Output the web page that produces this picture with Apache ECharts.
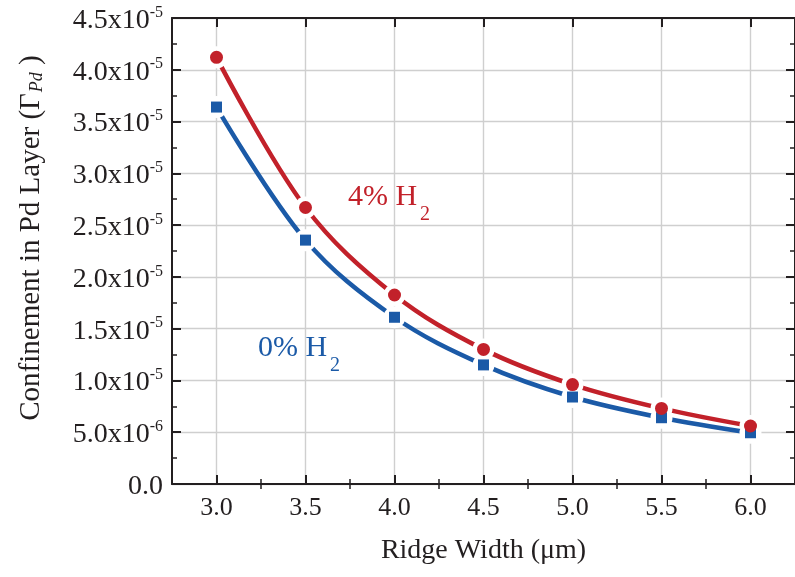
<!DOCTYPE html>
<html><head><meta charset="utf-8">
<script src="https://cdn.jsdelivr.net/npm/echarts@6/dist/echarts.min.js"></script>
<style>html,body{margin:0;padding:0;background:#fff}#c{width:795px;height:577px}</style>
</head><body><div id="c"></div>
<script>
const ridgeWidth = [3.0, 3.5, 4.0, 4.5, 5.0, 5.5, 6.0];
const conf4H2 = [4.12e-5, 2.67e-5, 1.825e-5, 1.30e-5, 9.6e-6, 7.3e-6, 5.6e-6];
const conf0H2 = [3.64e-5, 2.355e-5, 1.61e-5, 1.15e-5, 8.4e-6, 6.4e-6, 4.95e-6];
const xMajor = [3.0, 3.5, 4.0, 4.5, 5.0, 5.5, 6.0];
const xMinor = [3.25, 3.75, 4.25, 4.75, 5.25, 5.75];

const RED = '#C2212A', BLUE = '#1B5AA7', AX = '#231F20', GRID = '#CFCFCF';
const FONT = 'Liberation Serif';
const pairs = a => ridgeWidth.map((x, i) => [x, a[i]]);

function yFmt(v) {
  if (v === 0) return '{a|0.0}';
  if (v < 9.9e-6) return '{a|' + (v / 1e-6).toFixed(1) + 'x10}{s|-6}';
  return '{a|' + (v / 1e-5).toFixed(1) + 'x10}{s|-5}';
}

const chart = echarts.init(document.getElementById('c'), null, {renderer: 'canvas'});
const xBase = {
  type: 'value', min: 2.75, max: 6.25, gridIndex: 0,
  axisLine: {show: true, onZero: false, lineStyle: {color: AX, width: 2}},
  splitLine: {show: false}, minorTick: {show: false}
};
const option = {
  animation: false,
  backgroundColor: '#fff',
  grid: {left: 172, top: 18, width: 626, height: 466, containLabel: false},
  xAxis: [
    Object.assign({}, xBase, {
      position: 'bottom',
      axisTick: {show: true, inside: true, length: 9, customValues: xMajor, lineStyle: {color: AX, width: 2}},
      axisLabel: {show: true, customValues: xMajor, margin: 11, color: AX, fontFamily: FONT, fontSize: 26,
        formatter: v => v.toFixed(1)},
      splitLine: {show: true, lineStyle: {color: GRID, width: 1.4}},
      name: 'Ridge Width (\u03bcm)', nameLocation: 'middle', nameGap: 53,
      nameTextStyle: {color: AX, fontFamily: FONT, fontSize: 28}
    }),
    Object.assign({}, xBase, {
      position: 'bottom', axisLine: {show: false},
      axisTick: {show: true, inside: true, length: 5, customValues: xMinor, lineStyle: {color: AX, width: 1.5}},
      axisLabel: {show: false}
    }),
    Object.assign({}, xBase, {
      position: 'top',
      axisTick: {show: true, inside: true, length: 9, customValues: xMajor, lineStyle: {color: AX, width: 2}},
      axisLabel: {show: false}
    }),
    Object.assign({}, xBase, {
      position: 'top', axisLine: {show: false},
      axisTick: {show: true, inside: true, length: 5, customValues: xMinor, lineStyle: {color: AX, width: 1.5}},
      axisLabel: {show: false}
    })
  ],
  yAxis: [
    {
      type: 'value', min: 0, max: 4.5e-5, interval: 5e-6, position: 'left',
      axisLine: {show: true, onZero: false, lineStyle: {color: AX, width: 2}},
      axisTick: {show: true, inside: true, length: 9, lineStyle: {color: AX, width: 2}},
      minorTick: {show: true, splitNumber: 2, length: 5, lineStyle: {color: AX, width: 1.5}},
      splitLine: {show: true, lineStyle: {color: GRID, width: 1.4}},
      axisLabel: {margin: 9, formatter: yFmt, color: AX,
        rich: {a: {fontFamily: FONT, fontSize: 28, color: AX, padding: [5, 0, 0, 0]},
               s: {fontFamily: FONT, fontSize: 16, color: AX, padding: [0, 0, 11, 0]}}},
      name: 'Confinement in Pd Layer (\u0393{sub|Pd} )', nameLocation: 'middle', nameGap: 126, nameRotate: 90,
      nameTextStyle: {color: AX, fontFamily: FONT, fontSize: 29, padding: [0, 0, 0, 26],
        rich: {sub: {fontFamily: FONT, fontStyle: 'italic', fontSize: 18, color: AX, padding: [12, 0, 0, 1]}}}
    },
    {
      type: 'value', min: 0, max: 4.5e-5, interval: 5e-6, position: 'right',
      axisLine: {show: true, onZero: false, lineStyle: {color: AX, width: 2}},
      axisTick: {show: true, inside: true, length: 9, lineStyle: {color: AX, width: 2}},
      minorTick: {show: true, splitNumber: 2, length: 5, lineStyle: {color: AX, width: 1.5}},
      splitLine: {show: false}, axisLabel: {show: false}
    }
  ],
  series: [
    {type: 'line', data: pairs(conf4H2), smooth: 0.35, showSymbol: false, z: 2,
      lineStyle: {color: RED, width: 4.5, cap: 'round'}},
    {type: 'scatter', data: pairs(conf4H2), symbol: 'circle', symbolSize: 22, z: 3,
      itemStyle: {color: '#fff', opacity: 1}},
    {type: 'line', data: pairs(conf0H2), smooth: 0.35, showSymbol: false, z: 4,
      lineStyle: {color: BLUE, width: 4.5, cap: 'round'}},
    {type: 'scatter', data: pairs(conf0H2), symbol: 'circle', symbolSize: 22, z: 5,
      itemStyle: {color: '#fff', opacity: 1}},
    {type: 'scatter', data: pairs(conf0H2), symbol: 'rect', symbolSize: 11, z: 6,
      itemStyle: {color: BLUE, opacity: 1}},
    {type: 'scatter', data: pairs(conf4H2), symbol: 'circle', symbolSize: 13, z: 7,
      itemStyle: {color: RED, opacity: 1}}
  ],
  graphic: [
    {type: 'text', left: 348, top: 182, z: 10,
      style: {text: '4% H', font: '30px "Liberation Serif"', fill: RED}},
    {type: 'text', left: 420, top: 205, z: 10,
      style: {text: '2', font: '20px "Liberation Serif"', fill: RED}},
    {type: 'text', left: 258, top: 333, z: 10,
      style: {text: '0% H', font: '30px "Liberation Serif"', fill: BLUE}},
    {type: 'text', left: 330, top: 356, z: 10,
      style: {text: '2', font: '20px "Liberation Serif"', fill: BLUE}}
  ]
};
chart.setOption(option);
</script></body></html>
